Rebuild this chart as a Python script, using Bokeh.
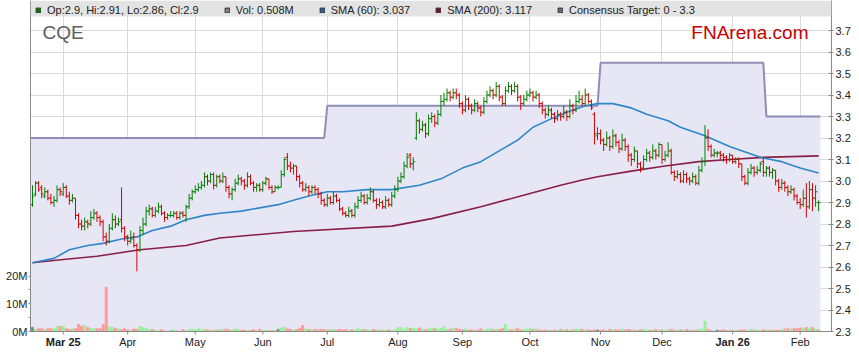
import numpy as np
import pandas as pd
from bokeh.plotting import figure
from bokeh.models import (Range1d, LinearAxis, FixedTicker, ColumnDataSource, BoxAnnotation,
                          Label, Legend, LegendItem, Grid, Span)
from bokeh.core.properties import value
from bokeh.embed import file_html
from bokeh.resources import INLINE

# ---------------- data ----------------
START_DATE = "2025-02-17"

OPEN = [
    2.89, 2.94, 2.99, 2.97, 2.93, 2.95, 2.92, 2.90, 2.91, 2.96,
    2.94, 2.97, 2.93, 2.91, 2.92, 2.84, 2.80, 2.79, 2.81, 2.80,
    2.83, 2.85, 2.83, 2.81, 2.74, 2.72, 2.78, 2.82, 2.80, 2.82,
    2.78, 2.74, 2.72, 2.74, 2.70, 2.68, 2.77, 2.80, 2.86, 2.87,
    2.84, 2.86, 2.88, 2.85, 2.83, 2.84, 2.84, 2.85, 2.83, 2.85,
    2.84, 2.88, 2.92, 2.95, 2.96, 2.97, 2.98, 3.02, 3.00, 3.03,
    2.98, 3.02, 3.00, 3.02, 2.97, 2.94, 2.96, 2.99, 3.01, 3.00,
    2.98, 3.02, 2.99, 2.97, 2.98, 2.96, 2.99, 3.01, 2.97, 2.95,
    2.97, 2.97, 3.03, 3.11, 3.07, 3.06, 3.07, 3.02, 2.99, 2.96,
    2.97, 2.95, 2.97, 2.96, 2.94, 2.91, 2.89, 2.92, 2.90, 2.93,
    2.91, 2.87, 2.85, 2.84, 2.86, 2.84, 2.88, 2.91, 2.93, 2.90,
    2.92, 2.95, 2.91, 2.89, 2.90, 2.88, 2.91, 2.89, 2.93, 2.96,
    3.00, 3.02, 3.07, 3.12, 3.08, 3.20, 3.28, 3.24, 3.26, 3.22,
    3.29, 3.30, 3.27, 3.31, 3.37, 3.38, 3.41, 3.39, 3.41, 3.40,
    3.36, 3.33, 3.38, 3.35, 3.33, 3.36, 3.34, 3.32, 3.37, 3.40,
    3.42, 3.40, 3.44, 3.39, 3.36, 3.42, 3.44, 3.42, 3.44, 3.39,
    3.36, 3.38, 3.40, 3.41, 3.39, 3.40, 3.36, 3.33, 3.31, 3.33,
    3.31, 3.29, 3.31, 3.30, 3.32, 3.30, 3.35, 3.33, 3.37, 3.38,
    3.36, 3.40, 3.37, 3.31, 3.21, 3.22, 3.19, 3.17, 3.20, 3.16,
    3.21, 3.18, 3.15, 3.19, 3.16, 3.12, 3.10, 3.14, 3.08, 3.06,
    3.10, 3.13, 3.11, 3.14, 3.12, 3.17, 3.10, 3.12, 3.14, 3.04,
    3.02, 3.03, 3.00, 3.03, 3.01, 3.00, 3.02, 2.99, 3.05, 3.09,
    3.20, 3.16, 3.12, 3.13, 3.13, 3.12, 3.11, 3.10, 3.12, 3.09,
    3.10, 3.08, 3.02, 2.99, 3.04, 3.06, 3.04, 3.05, 3.09, 3.04,
    3.06, 3.04, 3.05, 3.00, 2.97, 2.99, 2.97, 2.95, 2.96, 2.93,
    2.90, 2.89, 2.92, 2.88, 2.96, 2.92, 2.90,
]
HIGH = [
    2.98, 3.00, 3.00, 2.98, 2.97, 2.96, 2.94, 2.93, 2.98, 2.97,
    2.99, 2.98, 2.95, 2.94, 2.92, 2.85, 2.82, 2.83, 2.82, 2.86,
    2.87, 2.86, 2.84, 2.82, 2.76, 2.80, 2.85, 2.84, 2.83, 2.97,
    2.79, 2.75, 2.77, 2.76, 2.71, 2.79, 2.83, 2.88, 2.89, 2.88,
    2.88, 2.90, 2.89, 2.86, 2.85, 2.86, 2.86, 2.86, 2.86, 2.86,
    2.89, 2.94, 2.96, 2.98, 2.99, 3.00, 3.04, 3.03, 3.04, 3.04,
    3.03, 3.03, 3.04, 3.02, 2.98, 2.97, 3.01, 3.03, 3.02, 3.01,
    3.04, 3.03, 3.00, 2.99, 2.99, 3.00, 3.02, 3.01, 2.98, 2.98,
    2.98, 3.05, 3.11, 3.13, 3.09, 3.08, 3.07, 3.03, 3.00, 2.99,
    2.98, 2.98, 2.98, 2.97, 2.95, 2.92, 2.94, 2.93, 2.95, 2.94,
    2.92, 2.88, 2.86, 2.88, 2.87, 2.90, 2.93, 2.95, 2.94, 2.94,
    2.97, 2.96, 2.92, 2.92, 2.91, 2.93, 2.92, 2.95, 2.98, 3.02,
    3.04, 3.09, 3.13, 3.13, 3.11, 3.32, 3.29, 3.28, 3.27, 3.31,
    3.32, 3.31, 3.33, 3.40, 3.41, 3.43, 3.42, 3.43, 3.43, 3.41,
    3.37, 3.40, 3.39, 3.36, 3.38, 3.37, 3.35, 3.39, 3.42, 3.44,
    3.43, 3.46, 3.45, 3.40, 3.44, 3.46, 3.45, 3.46, 3.45, 3.40,
    3.40, 3.42, 3.43, 3.42, 3.42, 3.41, 3.37, 3.34, 3.35, 3.34,
    3.32, 3.33, 3.32, 3.35, 3.33, 3.38, 3.36, 3.40, 3.42, 3.40,
    3.43, 3.41, 3.38, 3.32, 3.25, 3.24, 3.20, 3.23, 3.21, 3.24,
    3.22, 3.19, 3.22, 3.20, 3.17, 3.13, 3.16, 3.14, 3.09, 3.12,
    3.15, 3.14, 3.17, 3.15, 3.18, 3.17, 3.14, 3.18, 3.15, 3.05,
    3.05, 3.04, 3.05, 3.04, 3.02, 3.04, 3.03, 3.07, 3.11, 3.26,
    3.24, 3.17, 3.15, 3.14, 3.14, 3.13, 3.12, 3.13, 3.12, 3.11,
    3.11, 3.08, 3.03, 3.06, 3.08, 3.07, 3.07, 3.09, 3.11, 3.07,
    3.07, 3.06, 3.05, 3.01, 3.01, 3.00, 2.98, 2.98, 2.97, 2.94,
    2.92, 2.96, 2.99, 3.00, 2.99, 2.98, 2.91,
]
LOW = [
    2.88, 2.93, 2.95, 2.92, 2.92, 2.91, 2.89, 2.88, 2.90, 2.93,
    2.93, 2.92, 2.89, 2.90, 2.82, 2.78, 2.77, 2.77, 2.78, 2.79,
    2.82, 2.81, 2.79, 2.72, 2.70, 2.71, 2.77, 2.78, 2.79, 2.76,
    2.72, 2.70, 2.71, 2.69, 2.58, 2.67, 2.75, 2.79, 2.84, 2.83,
    2.83, 2.85, 2.84, 2.81, 2.82, 2.83, 2.83, 2.82, 2.82, 2.83,
    2.81, 2.87, 2.91, 2.94, 2.95, 2.96, 2.97, 2.98, 2.99, 2.96,
    2.97, 2.99, 2.99, 2.95, 2.92, 2.91, 2.95, 2.98, 2.98, 2.96,
    2.97, 2.98, 2.95, 2.95, 2.95, 2.95, 2.98, 2.96, 2.94, 2.95,
    2.96, 2.97, 3.02, 3.05, 3.04, 3.03, 3.00, 2.97, 2.95, 2.95,
    2.93, 2.94, 2.94, 2.92, 2.89, 2.88, 2.88, 2.89, 2.89, 2.90,
    2.86, 2.84, 2.83, 2.83, 2.83, 2.83, 2.87, 2.90, 2.89, 2.89,
    2.91, 2.90, 2.87, 2.88, 2.87, 2.87, 2.88, 2.88, 2.92, 2.95,
    2.99, 3.01, 3.06, 3.06, 3.05, 3.19, 3.22, 3.23, 3.20, 3.21,
    3.27, 3.25, 3.26, 3.30, 3.35, 3.37, 3.37, 3.38, 3.38, 3.34,
    3.31, 3.32, 3.33, 3.31, 3.32, 3.32, 3.30, 3.31, 3.36, 3.39,
    3.38, 3.39, 3.37, 3.35, 3.35, 3.41, 3.40, 3.41, 3.37, 3.33,
    3.35, 3.37, 3.39, 3.37, 3.38, 3.34, 3.31, 3.29, 3.30, 3.29,
    3.27, 3.28, 3.28, 3.29, 3.28, 3.29, 3.31, 3.32, 3.36, 3.35,
    3.35, 3.36, 3.33, 3.17, 3.19, 3.17, 3.14, 3.16, 3.14, 3.15,
    3.16, 3.13, 3.14, 3.14, 3.09, 3.07, 3.09, 3.06, 3.04, 3.05,
    3.09, 3.09, 3.10, 3.10, 3.11, 3.08, 3.09, 3.11, 3.03, 3.00,
    3.01, 2.99, 2.99, 2.99, 2.98, 2.99, 2.98, 2.98, 3.04, 3.07,
    3.14, 3.11, 3.11, 3.11, 3.10, 3.09, 3.08, 3.09, 3.08, 3.08,
    3.06, 3.00, 2.98, 2.98, 3.03, 3.02, 3.03, 3.04, 3.02, 3.02,
    3.02, 3.01, 2.98, 2.95, 2.96, 2.95, 2.93, 2.94, 2.91, 2.89,
    2.87, 2.88, 2.83, 2.87, 2.86, 2.88, 2.86,
]
CLOSE = [
    2.93, 2.99, 2.96, 2.94, 2.95, 2.92, 2.90, 2.91, 2.96, 2.95,
    2.97, 2.93, 2.91, 2.92, 2.84, 2.80, 2.79, 2.81, 2.80, 2.83,
    2.85, 2.83, 2.81, 2.74, 2.72, 2.78, 2.82, 2.80, 2.81, 2.78,
    2.74, 2.72, 2.73, 2.70, 2.68, 2.77, 2.80, 2.86, 2.87, 2.84,
    2.86, 2.88, 2.85, 2.83, 2.84, 2.84, 2.85, 2.83, 2.85, 2.84,
    2.88, 2.92, 2.95, 2.96, 2.97, 2.98, 3.02, 3.00, 3.03, 2.98,
    3.02, 3.00, 3.02, 2.97, 2.94, 2.96, 2.99, 3.01, 3.00, 2.98,
    3.02, 2.99, 2.97, 2.98, 2.96, 2.99, 3.01, 2.97, 2.95, 2.97,
    2.97, 3.03, 3.10, 3.07, 3.06, 3.07, 3.02, 2.99, 2.96, 2.97,
    2.95, 2.97, 2.96, 2.94, 2.91, 2.89, 2.92, 2.90, 2.93, 2.91,
    2.87, 2.85, 2.84, 2.86, 2.84, 2.88, 2.91, 2.93, 2.90, 2.92,
    2.95, 2.91, 2.89, 2.90, 2.88, 2.91, 2.89, 2.93, 2.96, 3.00,
    3.02, 3.07, 3.11, 3.08, 3.09, 3.28, 3.24, 3.26, 3.22, 3.29,
    3.30, 3.27, 3.31, 3.37, 3.38, 3.41, 3.39, 3.41, 3.40, 3.36,
    3.33, 3.38, 3.35, 3.33, 3.36, 3.34, 3.32, 3.37, 3.40, 3.42,
    3.40, 3.44, 3.39, 3.36, 3.42, 3.44, 3.42, 3.44, 3.39, 3.36,
    3.38, 3.40, 3.41, 3.39, 3.40, 3.36, 3.33, 3.31, 3.33, 3.31,
    3.29, 3.31, 3.30, 3.32, 3.30, 3.35, 3.33, 3.37, 3.38, 3.36,
    3.40, 3.37, 3.34, 3.22, 3.22, 3.19, 3.17, 3.20, 3.16, 3.21,
    3.18, 3.15, 3.19, 3.16, 3.12, 3.10, 3.14, 3.08, 3.06, 3.10,
    3.13, 3.11, 3.14, 3.12, 3.17, 3.10, 3.12, 3.14, 3.04, 3.02,
    3.03, 3.00, 3.03, 3.01, 3.00, 3.02, 2.99, 3.05, 3.09, 3.20,
    3.16, 3.12, 3.13, 3.13, 3.12, 3.11, 3.10, 3.12, 3.09, 3.10,
    3.08, 3.02, 2.99, 3.04, 3.06, 3.04, 3.05, 3.08, 3.04, 3.06,
    3.04, 3.05, 3.00, 2.97, 2.99, 2.97, 2.95, 2.96, 2.93, 2.90,
    2.89, 2.92, 2.88, 2.96, 2.92, 2.95, 2.90,
]
VOLUME_M = [
    1.5, 0.7, 1.0, 1.0, 0.7, 1.0, 1.0, 1.0, 1.9, 1.9,
    1.9, 1.0, 0.7, 1.0, 1.0, 2.5, 1.9, 2.2, 1.4, 1.1,
    1.0, 1.0, 1.0, 2.5, 16.0, 1.5, 1.5, 1.1, 0.9, 0.6,
    1.0, 0.6, 0.5, 0.9, 0.8, 1.8, 1.5, 1.1, 0.6, 0.7,
    0.4, 0.3, 0.6, 0.2, 0.1, 0.2, 0.6, 0.2, 0.1, 0.7,
    0.3, 0.6, 0.8, 0.7, 1.0, 0.5, 0.8, 0.6, 0.5, 0.3,
    0.6, 0.5, 0.8, 0.9, 0.6, 0.5, 0.9, 0.7, 0.4, 0.5,
    0.3, 0.4, 0.6, 0.3, 0.8, 0.4, 0.5, 0.3, 0.4, 0.5,
    0.8, 1.3, 1.5, 0.9, 0.8, 0.5, 0.7, 1.1, 2.2, 0.9,
    0.7, 0.7, 0.8, 0.6, 0.8, 0.7, 0.6, 0.6, 0.7, 0.5,
    0.7, 0.6, 0.7, 0.4, 0.6, 0.5, 1.0, 0.8, 0.7, 0.6,
    0.5, 0.7, 0.4, 0.6, 0.3, 0.5, 0.6, 0.4, 0.5, 1.4,
    1.3, 0.8, 1.5, 1.1, 1.2, 0.9, 1.3, 0.8, 0.6, 0.9,
    1.2, 1.0, 0.9, 1.1, 1.6, 0.7, 0.9, 1.2, 1.0, 0.8,
    0.6, 0.9, 0.5, 0.6, 0.4, 0.5, 1.0, 0.6, 0.8, 1.0,
    0.6, 0.9, 0.7, 1.1, 2.5, 0.8, 0.6, 0.9, 1.2, 0.5,
    0.7, 0.9, 1.0, 0.8, 0.9, 0.6, 0.4, 0.5, 0.5, 0.3,
    0.5, 0.4, 0.8, 0.6, 0.6, 0.5, 0.6, 0.9, 0.7, 0.8,
    0.5, 0.6, 0.4, 0.6, 0.5, 0.5, 0.6, 0.4, 0.8, 0.6,
    0.7, 0.5, 0.9, 0.6, 0.7, 0.5, 0.6, 0.4, 0.6, 0.8,
    0.5, 0.4, 0.6, 0.7, 0.5, 0.6, 0.4, 0.7, 0.8, 0.5,
    0.4, 0.6, 0.5, 0.7, 0.4, 0.6, 0.5, 0.8, 0.9, 3.7,
    0.8, 0.3, 0.2, 0.5, 0.4, 0.6, 0.3, 0.4, 0.5, 0.3,
    0.4, 0.6, 0.5, 0.4, 0.7, 0.5, 0.6, 0.4, 0.6, 0.5,
    0.4, 0.6, 0.5, 0.5, 0.7, 0.9, 1.0, 0.9, 1.1, 1.0,
    1.3, 1.2, 1.4, 1.0, 1.4, 0.9, 0.508,
]

# moving averages (bar index, value)
SMA60_IDX = [0, 7, 12, 18, 23, 29, 34, 39, 45, 50, 56, 61, 68, 80, 85, 90, 96, 101,
             109, 117, 126, 133, 140, 146, 152, 158, 163, 169, 174, 180, 184, 189,
             195, 200, 207, 211, 219, 227, 237, 244, 250, 256]
SMA60_VAL = [2.62, 2.64, 2.68, 2.70, 2.71, 2.73, 2.74, 2.77, 2.79, 2.82, 2.84, 2.85,
             2.86, 2.89, 2.91, 2.93, 2.95, 2.95, 2.96, 2.96, 2.98, 3.01, 3.06, 3.09,
             3.14, 3.19, 3.25, 3.29, 3.32, 3.35, 3.36, 3.36, 3.34, 3.31, 3.28, 3.25,
             3.21, 3.16, 3.11, 3.09, 3.06, 3.037]
SMA200_IDX = [0, 10, 21, 35, 50, 61, 85, 117, 130, 146, 159, 172, 179, 184, 195,
              206, 217, 227, 238, 256]
SMA200_VAL = [2.62, 2.635, 2.65, 2.68, 2.70, 2.735, 2.765, 2.79, 2.825, 2.88, 2.93,
              2.98, 3.005, 3.02, 3.046, 3.07, 3.09, 3.10, 3.11, 3.117]

# consensus target: value in force from each date
TARGET_DATES = ["2025-02-17", "2025-07-01", "2025-11-03", "2026-01-16"]
TARGET_VALUES = [3.2, 3.35, 3.55, 3.3]

PRICE_TICKS = [2.3, 2.4, 2.5, 2.6, 2.7, 2.8, 2.9, 3.0, 3.1, 3.2, 3.3, 3.4, 3.5, 3.6, 3.7]
VOL_TICKS = [0, 10, 20]
VOL_MINOR = [5, 15]
VOL_LABELS = ["0M", "10M", "20M"]

TICKER = "CQE"
BRAND = "FNArena.com"
LEGEND_TEXTS = ["Op:2.9, Hi:2.91, Lo:2.86, Cl:2.9", "Vol: 0.508M", "SMA (60): 3.037",
                "SMA (200): 3.117", "Consensus Target: 0 - 3.3"]

# ---------------- styling / layout ----------------
FONT = "Liberation Sans"
UP = "#008000"
DOWN = "#d40000"
VOL_UP = "#99f099"
VOL_DOWN = "#ff9c9c"
VOL_FLAT = "#8c8c8c"
SMA60_C = "#2f86c8"
SMA200_C = "#8a1f45"
TARGET_C = "#8e8eb6"
FILL_C = "#e6e6f5"
GRID_C = "#dadada"
AXIS_C = "#8a8a8a"
TEXT_C = "#222222"

FRAME_W, FRAME_H = 801, 356
PXP = 215.0                      # pixels per 1.0 of price
X0, X1 = -0.65, 260.2
Y_AXIS = 2.3                     # price at the bottom axis line
Y1 = 3.7 + 30 / PXP              # price at the frame top
YB = Y1 - FRAME_H / PXP          # price at the frame bottom
VPX = 2.77                       # pixels per 1M volume
AXIS_PX = (Y1 - Y_AXIS) * PXP    # axis line distance from frame top
VOL_END = AXIS_PX / VPX
VOL_START = -(FRAME_H - AXIS_PX) / VPX


def px2x(px):  # screen px -> bar index (frame left at x=30)
    return X0 + (px - 30) * (X1 - X0) / FRAME_W


def py2y(py):  # screen px -> price (frame top at y=1)
    return Y1 - (py - 1) / PXP


n = len(CLOSE)
dates = pd.bdate_range(START_DATE, periods=n)
idx = np.arange(n)
o, h, l, c = map(np.array, (OPEN, HIGH, LOW, CLOSE))
bar_col = np.where(c >= o, UP, DOWN)
prev = np.concatenate([[c[0]], c[:-1]])
vol_col = np.where(c > prev, VOL_UP, np.where(c < prev, VOL_DOWN, VOL_FLAT))

tdates = pd.to_datetime(TARGET_DATES)
target = [TARGET_VALUES[np.searchsorted(tdates, d, side="right") - 1] for d in dates]

month_ticks, norm_lab, bold_lab = [], [], []
for i in range(1, n):
    if dates[i].month != dates[i - 1].month:
        first = len(month_ticks) == 0
        month_ticks.append(i)
        if first or dates[i].month == 1:
            bold_lab.append((i, dates[i].strftime("%b %y")))
        else:
            norm_lab.append((i, dates[i].strftime("%b")))

p = figure(frame_width=FRAME_W, frame_height=FRAME_H,
           x_range=Range1d(X0, X1), y_range=Range1d(YB, Y1),
           x_axis_location=None, y_axis_location="right",
           output_backend="svg", toolbar_location=None,
           min_border_left=30, min_border_right=25, min_border_top=0, min_border_bottom=0,
           background_fill_color="white", border_fill_color="white", outline_line_color=None)
p.extra_y_ranges = {"vol": Range1d(VOL_START, VOL_END)}

# grids (replace defaults)
p.center = [r for r in p.center if not isinstance(r, Grid)]
p.add_layout(Grid(dimension=0, ticker=FixedTicker(ticks=month_ticks),
                  grid_line_color=GRID_C, grid_line_width=1))
p.add_layout(Grid(dimension=1, ticker=FixedTicker(ticks=PRICE_TICKS),
                  grid_line_color=GRID_C, grid_line_width=1))

# blank area below the axis line
p.varea(x=[X0, X1], y1=YB, y2=Y_AXIS, fill_color="white", fill_alpha=1)

# consensus target area + line
tx = [idx[0] + X0] + list(idx) + [idx[-1] + 0.6]
ty = [target[0]] + target + [target[-1]]
p.varea(x=tx, y1=Y_AXIS, y2=ty, fill_color=FILL_C, fill_alpha=1)
p.line(x=tx, y=ty, line_color=TARGET_C, line_width=2)

# volume
vsrc = ColumnDataSource(dict(x=idx, top=VOLUME_M, color=vol_col))
p.vbar(x="x", top="top", bottom=0, width=0.65, color="color", source=vsrc, y_range_name="vol")

# SMAs
p.line(SMA200_IDX, SMA200_VAL, line_color=SMA200_C, line_width=1.6)
p.line(SMA60_IDX, SMA60_VAL, line_color=SMA60_C, line_width=1.6)

# OHLC bars
src = ColumnDataSource(dict(x=idx, o=o, h=h, l=l, c=c, xl=idx - 0.62, xr=idx + 0.62, col=bar_col))
p.segment(x0="x", y0="l", x1="x", y1="h", line_color="col", line_width=1.0, source=src)
p.segment(x0="xl", y0="o", x1="x", y1="o", line_color="col", line_width=1.0, source=src)
p.segment(x0="x", y0="c", x1="xr", y1="c", line_color="col", line_width=1.0, source=src)

# bottom (time) axis drawn inside the frame
p.add_layout(Span(location=Y_AXIS, dimension="width", line_color=AXIS_C, line_width=1))
p.segment(x0=month_ticks, y0=Y_AXIS, x1=month_ticks, y1=Y_AXIS - 3 / PXP,
          line_color=AXIS_C, line_width=1)
lab_y = Y_AXIS - 10 / PXP
p.text(x=[i for i, _ in norm_lab], y=lab_y, text=[t for _, t in norm_lab],
       text_align="center", text_baseline="middle", text_font=value(FONT),
       text_font_size="11px", text_color=TEXT_C)
p.text(x=[i for i, _ in bold_lab], y=lab_y, text=[t for _, t in bold_lab],
       text_align="center", text_baseline="middle", text_font=value(FONT),
       text_font_size="11px", text_font_style="bold", text_color=TEXT_C)

# price axis (right)
ay = p.yaxis[0]
ay.ticker = FixedTicker(ticks=PRICE_TICKS)
ay.major_label_overrides = {t: f"{t:.1f}" for t in PRICE_TICKS}
ay.bounds = (Y_AXIS, Y1)
ay.minor_tick_line_color = None
ay.major_tick_in = 3
ay.major_tick_out = 2
ay.major_label_standoff = 2
ay.axis_line_color = AXIS_C
ay.major_tick_line_color = AXIS_C
ay.major_label_text_font = FONT
ay.major_label_text_font_size = "11px"
ay.major_label_text_color = TEXT_C

# volume axis (left)
vax = LinearAxis(y_range_name="vol",
                 ticker=FixedTicker(ticks=VOL_TICKS, minor_ticks=VOL_MINOR),
                 major_label_overrides=dict(zip(VOL_TICKS, VOL_LABELS)))
vax.bounds = (0, VOL_END)
vax.major_tick_in = 0
vax.major_tick_out = 2
vax.minor_tick_in = 0
vax.minor_tick_out = 2
vax.major_label_standoff = 1
vax.axis_line_color = AXIS_C
vax.major_tick_line_color = AXIS_C
vax.minor_tick_line_color = AXIS_C
vax.major_label_text_font = FONT
vax.major_label_text_font_size = "11px"
vax.major_label_text_color = TEXT_C
p.add_layout(vax, "left")

# titles
p.add_layout(Label(x=px2x(42), y=py2y(33), text=TICKER, text_font=FONT, text_font_size="19px",
                   text_color="#5e5e5e", text_baseline="middle"))
p.add_layout(Label(x=px2x(808), y=py2y(33), text=BRAND, text_font=FONT, text_font_size="19px",
                   text_color="#c80000", text_align="right", text_baseline="middle"))

# legend band
p.add_layout(BoxAnnotation(bottom=py2y(17), fill_color="#e3e3e3", fill_alpha=1, line_color=None))

leg_colors = [UP, "#7f7f7f", "#1f66a6", "#7a1030", "#66668f"]
items = []
nan1 = np.array([np.nan])
for txt, col in zip(LEGEND_TEXTS, leg_colors):
    r = p.quad(left=nan1, right=nan1, top=nan1, bottom=nan1, fill_color=col,
               line_color="#333333", line_width=1)
    items.append(LegendItem(label=txt, renderers=[r]))
legend = Legend(items=items, orientation="horizontal", location=(5, FRAME_H - 15.5),
                spacing=25, padding=0, margin=0, glyph_width=6, glyph_height=6,
                label_standoff=6, label_height=12, label_text_font=FONT,
                label_text_font_size="11px", label_text_color=TEXT_C,
                background_fill_alpha=0, border_line_alpha=0)
p.add_layout(legend)

open("out.html", "w").write(file_html(p, INLINE))
